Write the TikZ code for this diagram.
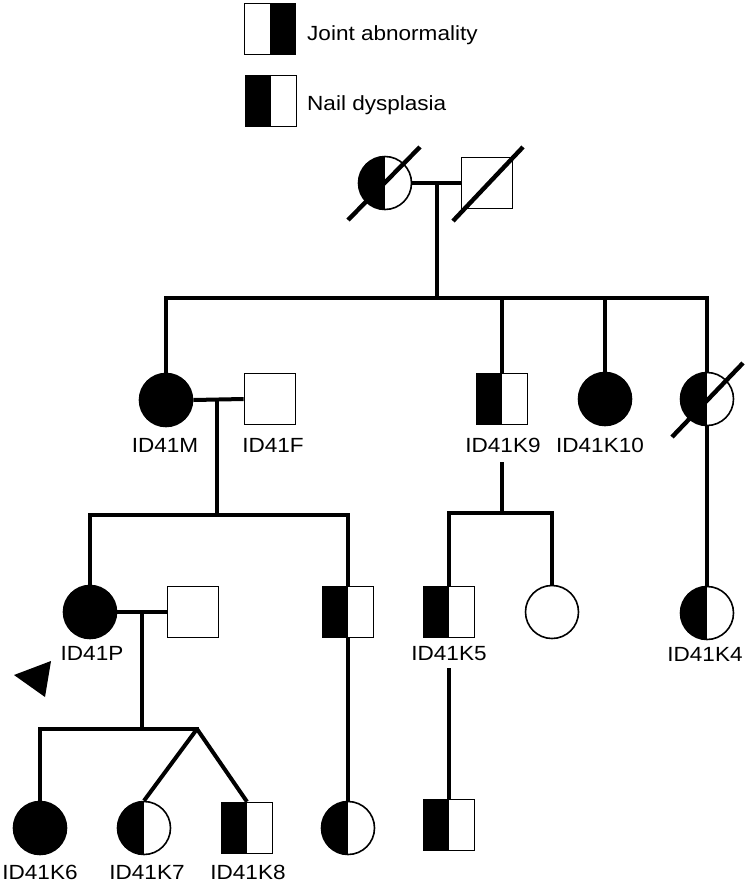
\documentclass[tikz,border=0pt]{standalone}
\usepackage{fontspec}
\setmainfont[FakeStretch=1.1]{Liberation Sans}
\begin{document}
\begin{tikzpicture}[x=1pt,y=-1pt,
  ind/.style={draw, line width=1.6pt, inner sep=0pt, fill=white},
  male/.style={ind, rectangle, minimum size=51pt},
  female/.style={ind, circle, minimum size=53pt},
  halfleft/.style={path picture={\fill[black] (path picture bounding box.south west) rectangle (path picture bounding box.north);}},
  halfright/.style={path picture={\fill[black] (path picture bounding box.south) rectangle (path picture bounding box.north east);}},
  full/.style={fill=black},
  rel/.style={line width=4pt},
  dead/.style={line width=4.4pt},
  lbl/.style={font=\fontsize{20.5}{20.5}\selectfont, inner sep=0pt, anchor=base},
  leg/.style={font=\fontsize{20.5}{20.5}\selectfont, inner sep=0pt, anchor=base west}
]
\useasboundingbox (0,0) rectangle (746,884);

% legend
\node[male, halfright] (L1) at (270,29) {};
\node[male, halfleft] (L2) at (271,101) {};
\node[leg] (L1t) at (307,40) {Joint abnormality};
\node[leg] (L2t) at (307,110) {Nail dysplasia};

% generation I
\node[female, halfleft] (G1) at (385,183) {};
\node[male] (G2) at (487,183) {};
\draw[dead] (G1.center) ++(-37,37) -- ++(72,-73);
\draw[dead] (G2.center) ++(-34,38) -- ++(70,-74);

% generation II
\node[female, full] (M) at (166,400) {};
\node[male] (F) at (270,399) {};
\node[male, halfleft] (K9) at (502,399) {};
\node[female, full] (K10) at (605,399) {};
\node[female, halfleft] (D) at (707,399) {};
\draw[dead] (D.center) ++(-35,38) -- ++(71,-74);
\node[lbl] (lM) at (165,452) {ID41M};
\node[lbl] (lF) at (273,452) {ID41F};
\node[lbl] (lK9) at (503,452) {ID41K9};
\node[lbl] (lK10) at (600,452) {ID41K10};

% generation III
\node[female, full] (P) at (90,612) {};
\node[male] (S) at (193,612) {};
\node[male, halfleft] (U) at (348,612) {};
\node[male, halfleft] (K5) at (449,612) {};
\node[female] (W) at (552,612) {};
\node[female, halfleft] (K4) at (707,613) {};
\node[lbl] (lP) at (92,660) {ID41P};
\node[lbl] (lK5) at (449,660) {ID41K5};
\node[lbl] (lK4) at (705,661) {ID41K4};

% generation IV
\node[female, full] (K6) at (40,828) {};
\node[female, halfleft] (K7) at (144,828) {};
\node[male, halfleft] (K8) at (247,828) {};
\node[female, halfleft] (V) at (348,828) {};
\node[male, halfleft] (X) at (449,825) {};
\node[lbl] (lK6) at (40,879) {ID41K6};
\node[lbl] (lK7) at (147,879) {ID41K7};
\node[lbl] (lK8) at (248,879) {ID41K8};

% proband arrow
\fill (14,675) -- (51,661) -- (45,697) -- cycle;

% junction coordinates
\coordinate (m1) at (437,183);
\coordinate (s1) at (437,298);
\coordinate (s1l) at (166,298);
\coordinate (s1r) at (707,298);
\coordinate (m2) at (217,399.5);
\coordinate (s2) at (217,515);
\coordinate (s2l) at (90,515);
\coordinate (s2r) at (348,515);
\coordinate (k9a) at (502,462);
\coordinate (s3) at (502,513);
\coordinate (s3l) at (449,513);
\coordinate (s3r) at (552,513);
\coordinate (m3) at (142,612);
\coordinate (s4) at (142,729);
\coordinate (s4l) at (40,729);
\coordinate (tw) at (197,729);
\coordinate (k5a) at (449,668);

% connectors
\draw[rel] (G1.east) -- (G2.west);
\draw[rel] (m1) -- (s1);
\draw[rel, line cap=rect] (s1l) -- (s1r);
\draw[rel] (s1l) -- (M.north);
\draw[rel] (K9.north) -- (K9.north |- s1);
\draw[rel] (K10.north) -- (K10.north |- s1);
\draw[rel] (D.north) -- (s1r);

\draw[rel] (M.east) -- (F.west);
\draw[rel] (m2) -- (s2);
\draw[rel, line cap=rect] (s2l) -- (s2r);
\draw[rel] (s2l) -- (P.north);
\draw[rel] (s2r) -- (U.north);

\draw[rel] (k9a) -- (s3);
\draw[rel, line cap=rect] (s3l) -- (s3r);
\draw[rel] (s3l) -- (K5.north);
\draw[rel] (s3r) -- (W.north);
\draw[rel] (D.south) -- (K4.north);

\draw[rel] (P.east) -- (S.west);
\draw[rel] (m3) -- (s4);
\draw[rel, line cap=rect] (s4l) -- (tw);
\draw[rel] (s4l) -- (K6.north);
\draw[rel] (tw) -- (K7.north);
\draw[rel] (tw) -- (K8.north);
\draw[rel] (U.south) -- (V.north);
\draw[rel] (k5a) -- (X.north);
\end{tikzpicture}
\end{document}
